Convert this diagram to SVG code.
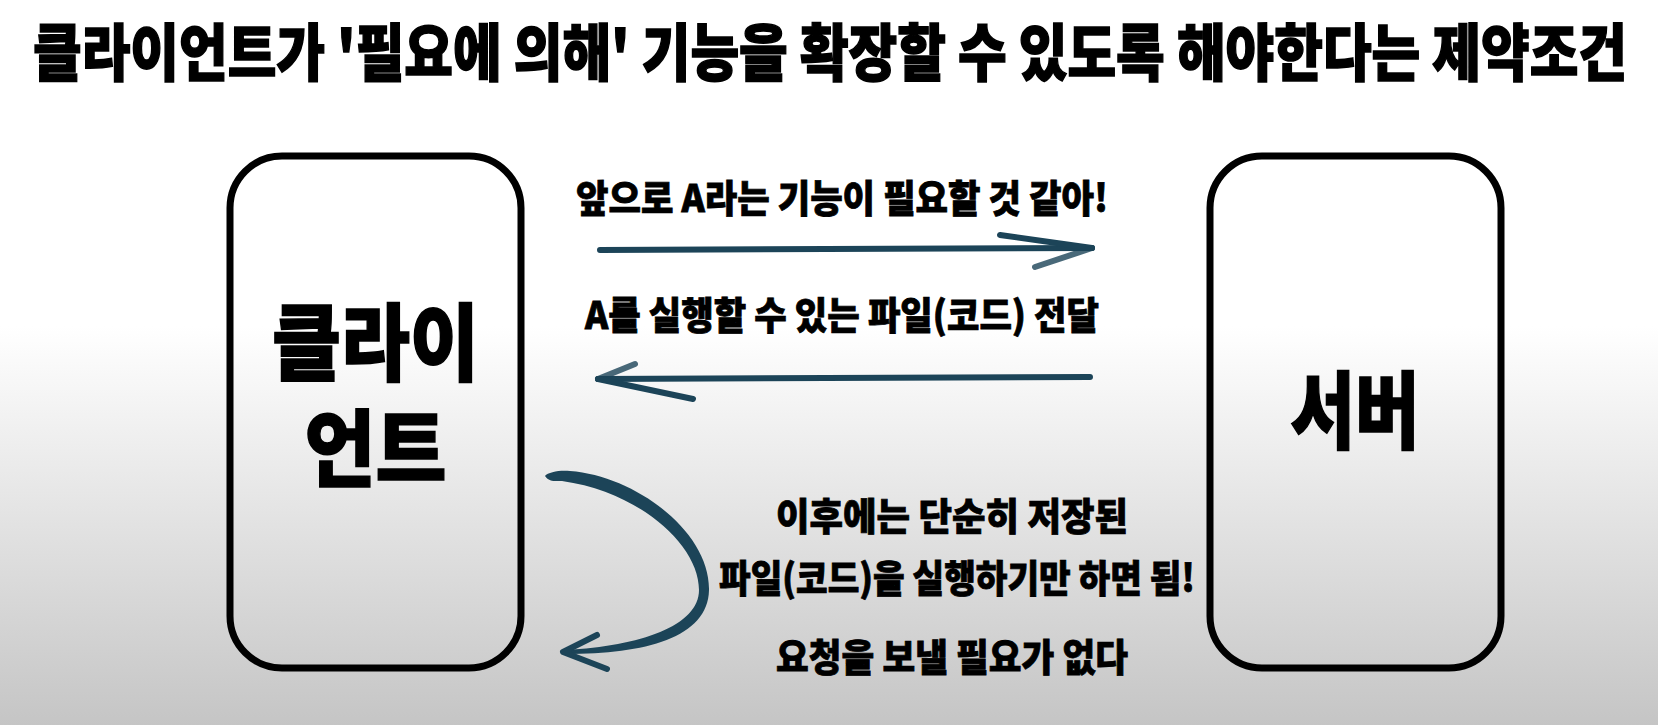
<svg xmlns="http://www.w3.org/2000/svg" width="1658" height="725" viewBox="0 0 1658 725">
<defs>
<linearGradient id="bg" x1="0" y1="0" x2="0" y2="1">
<stop offset="0" stop-color="#ffffff"/>
<stop offset="0.45" stop-color="#ffffff"/>
<stop offset="1" stop-color="#c5c5c5"/>
</linearGradient>
<linearGradient id="fadeR" gradientUnits="userSpaceOnUse" x1="600" y1="0" x2="1095" y2="0">
<stop offset="0" stop-color="#1c4458" stop-opacity="0"/>
<stop offset="0.25" stop-color="#1c4458" stop-opacity="0.9"/>
<stop offset="1" stop-color="#1c4458"/>
</linearGradient>
<linearGradient id="fadeL" gradientUnits="userSpaceOnUse" x1="1090" y1="0" x2="597" y2="0">
<stop offset="0" stop-color="#1c4458" stop-opacity="0"/>
<stop offset="0.25" stop-color="#1c4458" stop-opacity="0.9"/>
<stop offset="1" stop-color="#1c4458"/>
</linearGradient>
<style>
.t{font-family:"Noto Sans CJK KR","Noto Sans",sans-serif;font-weight:900;fill:#000;stroke:#000;stroke-width:0.8;text-anchor:middle}
.big{stroke-width:1.5}
.box{fill:none;stroke:#000;stroke-width:7}
.arw{fill:none;stroke:#1c4458;stroke-width:6;stroke-linecap:round;stroke-linejoin:round}
</style>
</defs>
<rect width="1658" height="725" fill="url(#bg)"/>
<text class="t big" x="830" y="76" font-size="62" textLength="1594" lengthAdjust="spacingAndGlyphs">클라이언트가 '필요에 의해' 기능을 확장할 수 있도록 해야한다는 제약조건</text>
<g id="client">
<rect class="box" x="230" y="156" width="291" height="512" rx="52"/>
<text class="t big" x="375.5" y="374" font-size="84" textLength="207" lengthAdjust="spacingAndGlyphs">클라이</text>
<text class="t big" x="375.5" y="480" font-size="84" textLength="142" lengthAdjust="spacingAndGlyphs">언트</text>
</g>
<g id="server">
<rect class="box" x="1210" y="156" width="291" height="512" rx="52"/>
<text class="t big" x="1355" y="442" font-size="84" textLength="129" lengthAdjust="spacingAndGlyphs">서버</text>
</g>
<g id="labels">
<text class="t" x="842" y="212" font-size="38" textLength="532" lengthAdjust="spacingAndGlyphs">앞으로 A라는 기능이 필요할 것 같아!</text>
<text class="t" x="842" y="329" font-size="38" textLength="514" lengthAdjust="spacingAndGlyphs">A를 실행할 수 있는 파일(코드) 전달</text>
<text class="t" x="952" y="530" font-size="38" textLength="352" lengthAdjust="spacingAndGlyphs">이후에는 단순히 저장된</text>
<text class="t" x="957" y="592" font-size="38" textLength="476" lengthAdjust="spacingAndGlyphs">파일(코드)을 실행하기만 하면 됨!</text>
<text class="t" x="952" y="671" font-size="38" textLength="352" lengthAdjust="spacingAndGlyphs">요청을 보낼 필요가 없다</text>
</g>
<g id="connectors">
<path class="arw" d="M600 250 L1092 248" stroke="url(#fadeR)"/>
<path class="arw" d="M1000 235 L1092 248"/>
<path class="arw" d="M1092 248 L1035 267" stroke-width="4" opacity="0.8"/>
<path class="arw" d="M1090 377 L598 379" stroke="url(#fadeL)"/>
<path class="arw" d="M598 379 L635 364" stroke-width="4" opacity="0.8"/>
<path class="arw" d="M598 379 L693 399"/>
<path d="M545 476 C548 472 560 470 570 471 C636 476 710 532 709 590 C708 638 645 654 566 654 L566 650 C640 646 699 626 699 590 C699 545 640 492 562 481 C555 481 549 482 545 476 Z" fill="#1c4458"/>
<path class="arw" d="M597 635 L563 652 L607 669" stroke-width="5"/>
</g>
</svg>
